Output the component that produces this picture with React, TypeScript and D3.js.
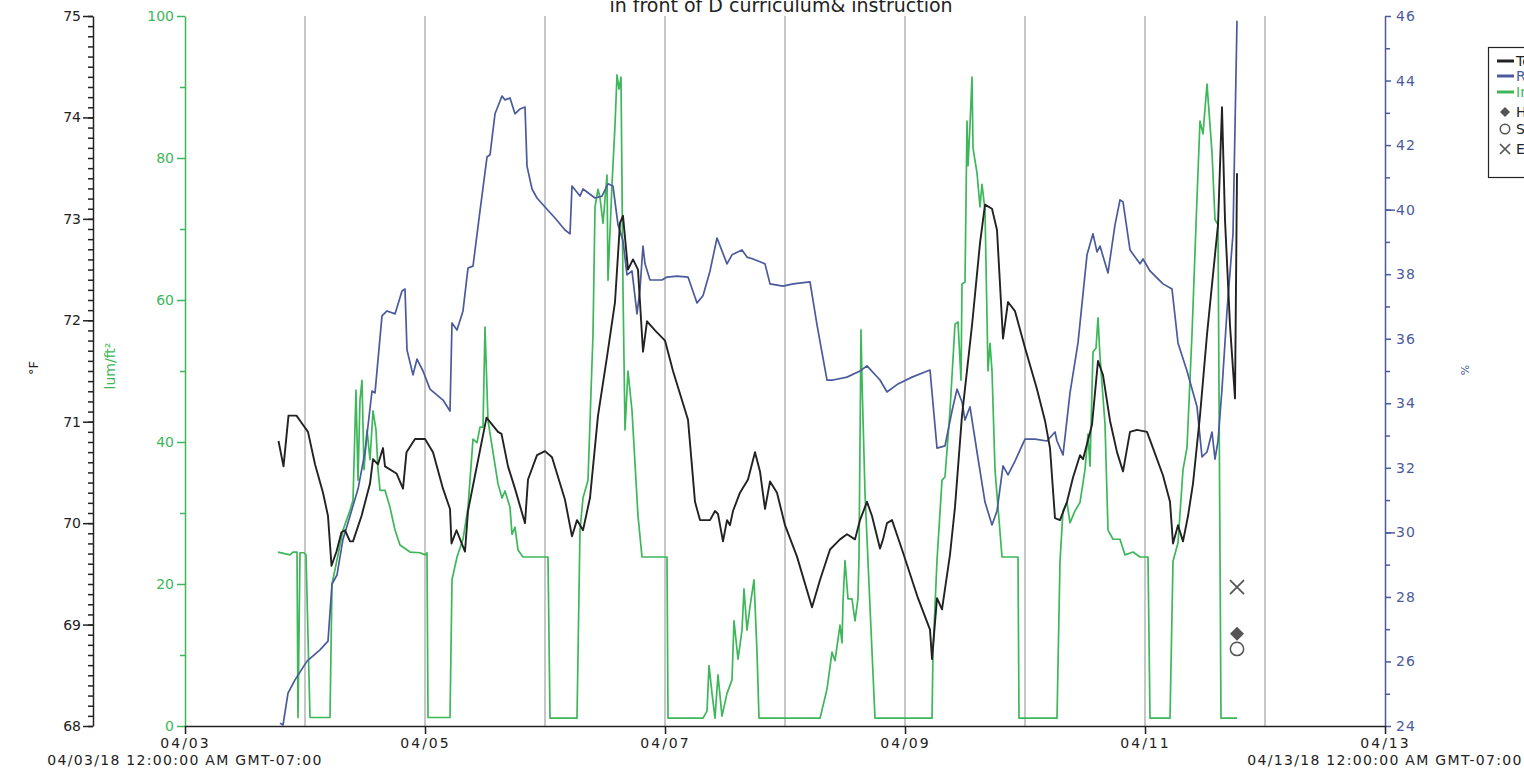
import React, { useEffect, useRef } from "react";
import * as d3 from "d3";

// time is hours after 04/03/18 12:00:00 AM
const startMs = Date.UTC(2018, 3, 3);
const HOUR = 3600 * 1000;
const spanHours = 240;

const title = "in front of D curriculum& instruction";

const temperature: [number, number][] = [
    [18.7,70.81],[19.7,70.56],[20.7,71.06],[22.3,71.06],[23.3,70.99],[24.6,70.90],[26,70.58],[27.6,70.30],[28.6,70.07],[29.3,69.58],
    [30.3,69.72],[31.3,69.91],[32,69.93],[33,69.82],[33.6,69.82],[35.3,70.07],[37,70.39],[37.6,70.63],[38.6,70.58],[39.6,70.74],
    [40,70.56],[42.3,70.49],[43.6,70.34],[44.3,70.70],[46,70.83],[48,70.83],[49.6,70.70],[51.6,70.34],[53,70.14],[53.3,69.80],
    [54.3,69.93],[56,69.72],[56.6,70.12],[58,70.47],[60.3,71.04],[62.6,70.90],[63.3,70.88],[64.6,70.56],[66,70.34],[68,70.00],
    [68.6,70.43],[70.4,70.67],[72,70.71],[73.4,70.65],[76,70.23],[77.4,69.87],[78.4,70.03],[79.6,69.93],[81,70.25],[82.6,71.06],
    [84.4,71.64],[86,72.18],[87,72.96],[87.6,73.03],[88.6,72.50],[89.6,72.60],[90.6,72.50],[91.6,71.69],[92.4,71.99],[94,71.90],
    [96,71.80],[97.6,71.50],[100.6,71.02],[102,70.21],[103,70.03],[105,70.03],[106,70.12],[106.6,70.09],[107.6,69.82],[108.4,70.03],
    [109,69.98],[109.6,70.12],[111,70.30],[112.6,70.43],[114,70.70],[115,70.51],[116,70.14],[117,70.41],[118.4,70.30],[120,69.98],
    [122.4,69.67],[125.4,69.17],[127,69.44],[129,69.74],[131,69.84],[132.4,69.89],[134,69.84],[135,70.03],[136.4,70.21],[137.4,70.07],
    [139,69.75],[139.6,69.84],[140.4,70.00],[141.4,70.03],[143.4,69.74],[146.6,69.26],[149,68.95],[149.4,68.66],[150.4,69.26],[151.4,69.15],
    [153,69.69],[154,70.16],[155.4,71.06],[157.4,71.95],[159,72.76],[160,73.14],[161.4,73.10],[162.4,72.89],[163.6,71.82],[164.6,72.18],
    [166,72.09],[168,71.73],[170.4,71.32],[172,71.01],[173,70.74],[174,70.05],[175,70.03],[176.4,70.21],[177.6,70.45],[179,70.67],
    [179.6,70.63],[181.4,70.97],[182.6,71.60],[183.6,71.46],[185,71.01],[186.4,70.70],[187.6,70.51],[189,70.90],[190.4,70.92],[192.4,70.90],
    [193.6,70.74],[195.6,70.47],[197,70.21],[197.6,69.80],[198.6,69.98],[199.6,69.82],[200.6,70.07],[201.6,70.39],[203,71.06],[204.4,71.86],
    [205.6,72.45],[206.6,72.94],[207.4,74.10],[208,72.99],[209,71.95],[210,71.23],[210.4,73.45]
];

const rh: [number, number][] = [
    [19,24.09],[19.6,24.03],[20.6,25.02],[22,25.43],[24.4,26.01],[27,26.36],[28.6,26.63],[29.4,28.40],[30.4,28.68],[31.6,29.79],
    [33,30.51],[34.6,31.34],[36,32.49],[37.4,34.38],[38,34.32],[39.4,36.71],[40.4,36.86],[42,36.77],[43.4,37.48],[44,37.54],
    [44.4,35.65],[45.6,34.88],[46.4,35.37],[47.6,35.0],[49,34.44],[51.6,34.10],[53,33.76],[53.4,36.49],[54.4,36.27],[55.6,36.86],
    [56.6,38.19],[57.6,38.25],[59,39.96],[60.4,41.63],[61,41.70],[62,42.97],[63.4,43.52],[64,43.40],[65,43.46],[66,42.97],
    [67,43.12],[68,43.18],[68.4,41.35],[69.4,40.64],[70.4,40.36],[72,40.08],[74,39.74],[76,39.37],[77,39.25],[77.4,40.73],
    [79,40.42],[79.6,40.64],[82,40.36],[83.4,40.42],[84.6,40.80],[85.6,40.73],[86.6,39.53],[87.6,39.03],[88.4,37.98],[89.4,38.10],
    [90.4,36.77],[91,37.54],[91.6,38.87],[92,38.32],[93,37.82],[95.4,37.82],[96.4,37.91],[98.4,37.94],[100.6,37.91],[102.4,37.11],
    [103.6,37.33],[105,38.10],[106.4,39.12],[108.4,38.32],[109.4,38.60],[111.4,38.75],[112.4,38.53],[113.6,38.47],[116,38.32],[117,37.70],
    [119.6,37.63],[121.6,37.70],[125,37.76],[126.4,36.43],[128.4,34.72],[129.6,34.72],[132.4,34.81],[135,35.00],[136.4,35.16],[139,34.72],
    [140.4,34.35],[142.6,34.60],[145.4,34.81],[149,35.03],[150.4,32.61],[152,32.68],[153.4,33.76],[154.4,34.44],[155.4,34.04],[156,33.48],
    [157,33.89],[158.4,32.49],[160,30.94],[161.4,30.23],[162.4,30.66],[163.6,32.06],[164.6,31.78],[166,32.21],[168,32.89],[170,32.89],
    [172.4,32.83],[174,33.11],[174.4,32.83],[175.6,32.40],[177,34.32],[178.6,35.87],[180.4,38.60],[181.6,39.25],[182.4,38.69],[183,38.87],
    [184.6,38.04],[186,39.53],[187,40.30],[187.6,40.24],[189,38.75],[191,38.32],[191.6,38.47],[193,38.10],[195.6,37.70],[197.4,37.54],
    [198.6,35.87],[200.4,35.00],[202.4,33.89],[203.4,32.34],[204.4,32.49],[205.4,33.11],[206,32.27],[206.6,32.83],[207.4,34.44],[208.4,36.86],
    [209.6,39.25],[210.4,45.85]
];

const intensity: [number, number][] = [
    [18.6,24.5],[21,24.1],[21.6,24.5],[22.4,24.5],[22.6,1.2],[23,24.4],[23.8,24.4],[24.2,24.1],[25,1.2],[29,1.2],
    [29.4,20],[30.4,23.4],[31.6,27.6],[33,30.4],[33.6,31.8],[34.2,47.3],[34.6,34.6],[35,45.9],[35.4,48.7],[35.8,36.1],
    [36.4,41.7],[37,37.5],[37.6,44.4],[38.2,41.7],[38.6,36.1],[39,33.2],[40,33.2],[41,30.8],[42,27.6],[43,25.5],
    [45,24.5],[47,24.4],[48,24.1],[48.4,24.4],[48.6,1.2],[53,1.2],[53.4,20.6],[54.4,23.8],[55.6,26.3],[56.6,30.8],
    [57.6,40.4],[58.4,39.9],[59,42.1],[59.6,42.1],[60,56.2],[60.6,43.0],[62.6,34.1],[63.4,32.1],[64,33.1],[65,30.8],
    [65.4,27.0],[66,28.0],[66.6,24.8],[67.6,23.8],[72.6,23.8],[73,1.1],[78.4,1.1],[79,27.6],[79.6,32.1],[80.6,34.6],
    [81.6,55.2],[82,73.1],[82.6,75.6],[83,74.4],[83.6,70.8],[84.4,77.6],[84.6,62.8],[85.4,76.3],[86,84.6],[86.4,91.7],
    [86.8,89.7],[87.2,91.4],[87.6,61.5],[88,41.7],[88.6,50],[89.4,44.4],[90.6,29.6],[91.4,23.8],[96.4,23.8],[96.6,1.1],
    [103.6,1.1],[104.4,2.1],[104.8,8.5],[105.4,4.6],[106,1.1],[106.6,7.2],[107.4,1.4],[108.4,4.6],[109.4,6.5],[109.8,14.8],
    [110.6,9.4],[111.4,13.5],[111.8,19.3],[112.4,13.5],[113,16.8],[113.8,20.6],[114.4,10.4],[114.8,1.1],[127,1.1],[128.4,5.2],
    [129.4,10.4],[130,9.2],[131,14.2],[131.4,11.7],[131.6,17.5],[132,23.3],[132.6,17.9],[133.4,17.9],[134,14.8],[134.6,18.0],
    [134.8,23.8],[135.2,55.8],[135.4,48.7],[136,32.8],[137,16.8],[138,1.1],[149.4,1.1],[149.6,10.4],[150.4,23.3],[151.4,34.6],
    [152,35.1],[153,44.4],[154,56.6],[154.6,56.9],[155.2,48.7],[155.4,62.3],[156,62.5],[156.4,85.2],[156.6,78.9],[157,84.6],
    [157.4,91.4],[157.6,81.4],[158.4,77.9],[159,73.1],[159.4,76.3],[160,72.7],[160.6,50.0],[161,53.9],[161.4,50.0],[162,36.1],
    [163.4,23.8],[166.6,23.8],[166.8,1.1],[174.4,1.1],[175,23.2],[175.6,30.3],[176.4,31.5],[177,28.6],[178,30.3],[179,31.5],
    [180,36.1],[180.6,41.1],[181,36.6],[181.6,52.7],[182.2,53.2],[182.6,57.5],[183,52.0],[184,42.5],[184.6,27.6],[185.6,26.3],
    [187,26.3],[188,24.1],[189.6,24.5],[191,23.8],[192.6,23.8],[193,1.1],[197,1.1],[197.6,23.2],[198.6,25.8],[199.6,36.1],
    [200.4,39.2],[201.4,55.2],[202.4,74.4],[203,85.2],[203.6,83.4],[204.4,90.4],[205.4,80.8],[206,71.3],[206.6,70.6],[207.2,1.1],
    [210.4,1.1]
];

// event markers: hours, value on the °F scale
const eventNames = ["Host Connected", "Stopped", "End Of File"];
const eventShapes = ["diamond", "circle", "cross"];
const eventHours = [210.4, 210.4, 210.4];
const eventValues = [68.91, 68.76, 69.37];

const legendNames = ["Temp, °F", "RH, %", "Intensity, lum/ft²", ...eventNames];

const BLACK = "#222222";
const BLUE = "#4a5a9c";
const GREEN = "#3db75a";
const MARK = "#555555";
const FONT = "'DejaVu Sans', Verdana, sans-serif";

const App = () => {
    const ref = useRef<SVGSVGElement>(null);

    useEffect(() => {
        document.body.style.overflow = "hidden";
        const svg = d3.select(ref.current);
        svg.selectAll("*").remove();

        const top = 16, bottom = 726, left = 185, right = 1385;

        const x = d3.scaleUtc()
            .domain([new Date(startMs), new Date(startMs + spanHours * HOUR)])
            .range([left, right]);
        const yT = d3.scaleLinear().domain([68, 75]).range([bottom, top]);
        const yL = d3.scaleLinear().domain([0, 100]).range([bottom, top]);
        const yR = d3.scaleLinear().domain([24, 46]).range([bottom, top]);
        const hx = (h: number) => x(new Date(startMs + h * HOUR));

        // title
        svg.append("text")
            .attr("x", 781).attr("y", 12)
            .attr("text-anchor", "middle")
            .style("font-size", "19px").attr("fill", BLACK)
            .text(title);

        // day gridlines
        const days = d3.utcDay.range(new Date(startMs + 24 * HOUR), new Date(startMs + spanHours * HOUR));
        svg.append("g").selectAll("line").data(days).enter().append("line")
            .attr("x1", d => x(d)).attr("x2", d => x(d))
            .attr("y1", top).attr("y2", bottom)
            .attr("stroke", "#b5b5b5").attr("stroke-width", 1.5);

        // temperature axis
        const tAxis = svg.append("g").attr("transform", "translate(93,0)").attr("color", BLACK);
        tAxis.call(d3.axisLeft(yT).tickValues(d3.range(0, 71).map(i => 68 + i / 10)).tickSize(5).tickSizeOuter(0).tickFormat(() => ""));
        tAxis.call(g => g.select(".domain").remove());
        const tMajor = svg.append("g").attr("transform", "translate(93,0)").attr("color", BLACK);
        tMajor.call(d3.axisLeft(yT).tickValues(d3.range(68, 76)).tickSize(10).tickSizeOuter(0).tickPadding(2).tickFormat(d3.format("d")));

        // intensity axis
        const lMinor = svg.append("g").attr("transform", `translate(${left},0)`).attr("color", GREEN);
        lMinor.call(d3.axisLeft(yL).tickValues([10, 30, 50, 70, 90]).tickSize(5).tickSizeOuter(0).tickFormat(() => ""));
        lMinor.call(g => g.select(".domain").remove());
        const lMajor = svg.append("g").attr("transform", `translate(${left},0)`).attr("color", GREEN);
        lMajor.call(d3.axisLeft(yL).tickValues(d3.range(0, 101, 20)).tickSize(8).tickSizeOuter(0).tickPadding(3).tickFormat(d3.format("d")));

        // RH axis
        const rMinor = svg.append("g").attr("transform", `translate(${right},0)`).attr("color", BLUE);
        rMinor.call(d3.axisRight(yR).tickValues(d3.range(25, 46, 2)).tickSize(5).tickSizeOuter(0).tickFormat(() => ""));
        rMinor.call(g => g.select(".domain").remove());
        const rLong = svg.append("g").attr("transform", `translate(${right},0)`).attr("color", BLUE);
        rLong.call(d3.axisRight(yR).tickValues([30, 40]).tickSize(10).tickSizeOuter(0).tickFormat(() => ""));
        rLong.call(g => g.select(".domain").remove());
        const rMajor = svg.append("g").attr("transform", `translate(${right},0)`).attr("color", BLUE);
        rMajor.call(d3.axisRight(yR).tickValues(d3.range(24, 47, 2)).tickSize(6).tickSizeOuter(0).tickPadding(5).tickFormat(d3.format("d")));
        rMajor.selectAll(".tick text").style("letter-spacing", "1px");

        // time axis
        const xTicks = d3.range(0, 11, 2).map(d => new Date(startMs + d * 24 * HOUR));
        const xAxis = svg.append("g").attr("transform", `translate(0,${bottom})`).attr("color", BLACK);
        xAxis.call(d3.axisBottom(x).tickValues(xTicks).tickSize(8).tickSizeOuter(0).tickPadding(4).tickFormat(d => d3.utcFormat("%m/%d")(d as Date)));

        svg.selectAll(".tick text").style("font-size", "14px").style("font-family", FONT);
        xAxis.selectAll(".tick text").style("letter-spacing", "2px");
        svg.selectAll(".tick line, .domain").attr("stroke-width", 1.5);

        const fullFmt = d3.utcFormat("%m/%d/%y %I:%M:%S %p");
        [new Date(startMs), new Date(startMs + spanHours * HOUR)].forEach(d => {
            svg.append("text")
                .attr("x", x(d)).attr("y", 765)
                .attr("text-anchor", "middle")
                .style("font-size", "14px").style("letter-spacing", "1.3px").attr("fill", BLACK)
                .text(fullFmt(d) + " GMT-07:00");
        });

        // axis titles
        svg.append("text")
            .attr("transform", "translate(38,368) rotate(-90)")
            .attr("text-anchor", "middle")
            .style("font-size", "13px").attr("fill", BLACK)
            .text("°F");
        svg.append("text")
            .attr("transform", "translate(115,366) rotate(-90)")
            .attr("text-anchor", "middle")
            .style("font-size", "14px").attr("fill", GREEN)
            .text("lum/ft²");
        svg.append("text")
            .attr("transform", "translate(1469,370) rotate(-90)")
            .attr("text-anchor", "middle")
            .style("font-size", "11px").attr("fill", BLUE)
            .text("%");

        // series
        const lineOf = (y: d3.ScaleLinear<number, number>) =>
            d3.line<[number, number]>().x(d => hx(d[0])).y(d => y(d[1]));

        svg.append("path").datum(intensity)
            .attr("d", lineOf(yL)).attr("fill", "none")
            .attr("stroke", GREEN).attr("stroke-width", 1.7).attr("stroke-linejoin", "round");
        svg.append("path").datum(rh)
            .attr("d", lineOf(yR)).attr("fill", "none")
            .attr("stroke", BLUE).attr("stroke-width", 1.7).attr("stroke-linejoin", "round");
        svg.append("path").datum(temperature)
            .attr("d", lineOf(yT)).attr("fill", "none")
            .attr("stroke", BLACK).attr("stroke-width", 1.9).attr("stroke-linejoin", "round");

        // markers
        const drawMark = (g: any, shape: string, cx: number, cy: number, s: number) => {
            if (shape === "diamond") {
                g.append("path")
                    .attr("d", `M${cx},${cy - s}L${cx + s},${cy}L${cx},${cy + s}L${cx - s},${cy}Z`)
                    .attr("fill", MARK);
            } else if (shape === "circle") {
                g.append("circle").attr("cx", cx).attr("cy", cy).attr("r", s * 0.95)
                    .attr("fill", "none").attr("stroke", MARK).attr("stroke-width", 1.5);
            } else {
                g.append("path")
                    .attr("d", `M${cx - s},${cy - s}L${cx + s},${cy + s}M${cx - s},${cy + s}L${cx + s},${cy - s}`)
                    .attr("stroke", MARK).attr("stroke-width", 1.7);
            }
        };
        const marks = svg.append("g");
        eventShapes.forEach((shape, i) => {
            drawMark(marks, shape, hx(eventHours[i]), yT(eventValues[i]), 7);
        });

        // legend
        const legend = svg.append("g");
        legend.append("rect")
            .attr("x", 1488.5).attr("y", 47.5).attr("width", 60).attr("height", 130)
            .attr("fill", "white").attr("stroke", BLACK).attr("stroke-width", 1.2);
        const legendY = [61, 76, 92, 112, 129, 149];
        const lineColors = [BLACK, BLUE, GREEN];
        legendNames.forEach((name, i) => {
            const ly = legendY[i];
            if (i < 3) {
                legend.append("line")
                    .attr("x1", 1497).attr("x2", 1514).attr("y1", ly).attr("y2", ly)
                    .attr("stroke", lineColors[i]).attr("stroke-width", 3);
            } else {
                drawMark(legend, eventShapes[i - 3], 1505, ly, 5);
            }
            legend.append("text")
                .attr("x", 1516).attr("y", ly + 5)
                .style("font-size", "14px")
                .attr("fill", i < 3 ? lineColors[i] : BLACK)
                .text(name);
        });
    }, []);

    return (
        <svg
            ref={ref}
            width={1524}
            height={769}
            style={{ position: "absolute", left: 0, top: 0, fontFamily: FONT, background: "white" }}
        />
    );
};

export default App;
